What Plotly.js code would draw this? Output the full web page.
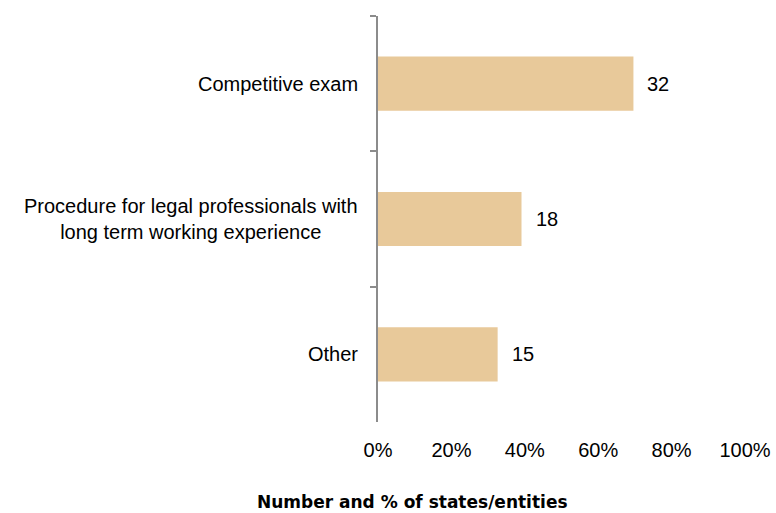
<!DOCTYPE html>
<html>
<head>
<meta charset="utf-8">
<script src="https://cdn.plot.ly/plotly-3.0.1.min.js"></script>
<style>html,body{margin:0;padding:0;background:#fff;}#chart{width:776px;height:513px;}</style>
</head>
<body>
<div id="chart"></div>
<script>
const categories = ["Competitive exam", "Procedure for legal professionals with<br>long term working experience", "Other"];
const counts = [32, 18, 15];
const percents = [69.6, 39.1, 32.6];
const xTickVals = [0, 20, 40, 60, 80, 100];
const xTickText = ["0%", "20%", "40%", "60%", "80%", "100%"];
const axisTitle = "Number and % of states/entities";

const font = "Liberation Sans, Arial, sans-serif";
const fsize = 20;

const trace = {
  type: "bar",
  orientation: "h",
  y: categories,
  x: percents,
  marker: {color: "#E8C99A"},
  width: 0.4,
  hoverinfo: "none"
};

const annotations = [];
categories.forEach((c, i) => {
  annotations.push({
    text: c, xref: "paper", yref: "y", x: 0, y: c,
    xanchor: "right", yanchor: "middle", xshift: -18,
    align: "center", showarrow: false,
    font: {family: font, size: fsize, color: "#000"}
  });
  annotations.push({
    text: String(counts[i]), xref: "x", yref: "y", x: percents[i], y: c,
    xanchor: "left", yanchor: "middle", xshift: 12,
    showarrow: false,
    font: {family: font, size: fsize, color: "#000"}
  });
});
annotations.push({
  text: "<b>" + axisTitle + "</b>",
  xref: "paper", yref: "paper",
  x: (412 - 378) / 367, y: -0.198,
  xanchor: "center", yanchor: "middle",
  showarrow: false,
  font: {family: "DejaVu Sans, sans-serif", size: 17, color: "#000"}
});

const layout = {
  width: 776,
  height: 513,
  margin: {l: 378, r: 31, t: 16, b: 91},
  paper_bgcolor: "#fff",
  plot_bgcolor: "#fff",
  showlegend: false,
  font: {family: font, size: fsize, color: "#000"},
  xaxis: {
    range: [0, 100],
    tickvals: xTickVals,
    ticktext: xTickText,
    showgrid: false,
    zeroline: false,
    showline: false,
    ticks: "",
    ticklabelstandoff: 14,
    tickfont: {family: font, size: fsize, color: "#000"}
  },
  yaxis: {
    autorange: "reversed",
    showgrid: false,
    zeroline: false,
    showline: true,
    linecolor: "#8c8c8c",
    linewidth: 2,
    ticks: "outside",
    tickson: "boundaries",
    ticklen: 6,
    tickcolor: "#8c8c8c",
    tickwidth: 2,
    showticklabels: false
  },
  annotations: annotations
};

Plotly.newPlot("chart", [trace], layout, {displayModeBar: false, staticPlot: true});
</script>
</body>
</html>
